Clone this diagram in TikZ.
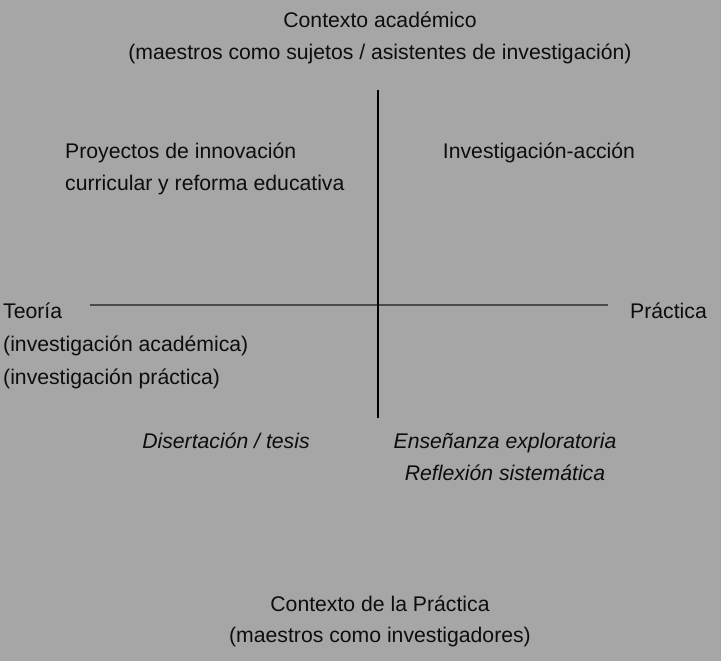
\documentclass[tikz,border=0pt]{standalone}
\usepackage{fontspec}
\setmainfont{Liberation Sans}
\definecolor{fondo}{HTML}{A6A6A6}
\definecolor{ejeh}{HTML}{4A4A4A}

\begin{document}
\begin{tikzpicture}[x=1pt,y=-1pt, font=\fontsize{21.2}{25}\selectfont,
  every node/.style={inner sep=0pt, text=black!95},
  cursiva/.style={font=\fontsize{21.2}{25}\selectfont\itshape},
  ejeteoria/.style={draw=ejeh, line width=2pt},
  ejecontexto/.style={draw=black, line width=1.3pt},]
    \fill[fondo] (0,0) rectangle (721,661);
    % ejes
    \coordinate (izq) at (90,305);
    \coordinate (der) at (608,305);
    \coordinate (arriba) at (378,90);
    \coordinate (abajo) at (378,418);
    \draw[ejeteoria] (izq) -- (der);
    \draw[ejecontexto] (arriba) -- (abajo);
    % contexto academico
    \node[anchor=mid] (acad) at (380,25) {Contexto académico};
    \node[anchor=mid] (acadsub) at (380,57) {(maestros como sujetos / asistentes de investigación)};
    % cuadrantes de arriba
    \node[anchor=mid west] (proy) at (65,156) {Proyectos de innovación};
    \node[anchor=mid west] (curr) at (65,188) {curricular y reforma educativa};
    \node[anchor=mid] (ia) at (539,156) {Investigación-acción};
    % teoria y practica
    \node[anchor=mid west] (teoria) at (3,316) {Teoría};
    \node[anchor=mid west] (invacad) at (3,349) {(investigación académica)};
    \node[anchor=mid west] (invprac) at (3,382) {(investigación práctica)};
    \node[anchor=mid east] (practica) at (707,316) {Práctica};
    % cuadrantes de abajo
    \node[cursiva,anchor=mid] (tesis) at (226,446) {Disertación / tesis};
    \node[cursiva,anchor=mid] (ensenanza) at (505,446) {Enseñanza exploratoria};
    \node[cursiva,anchor=mid] (reflexion) at (505,478) {Reflexión sistemática};
    % contexto de la practica
    \node[anchor=mid] (ctxprac) at (380,609) {Contexto de la Práctica};
    \node[anchor=mid] (ctxsub) at (380,640) {(maestros como investigadores)};
\end{tikzpicture}
\end{document}
